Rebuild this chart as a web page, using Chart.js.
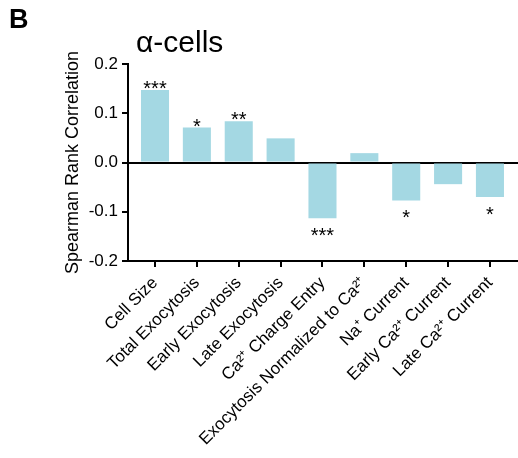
<!DOCTYPE html>
<html lang="en">
<head>
  <meta charset="UTF-8">
  <title>α-cells</title>
  <script src="https://cdn.jsdelivr.net/npm/chart.js"></script>
  <style>
    body {
      margin: 0;
      padding: 0;
      background: #fff;
      font-family: 'Liberation Sans', Arial, sans-serif;
    }
    .lienzo {
      position: relative;
      width: 518px;
      height: 458px;
    }
    .panel {
      position: absolute;
      left: 9px;
      top: 4px;
      font-size: 27px;
      font-weight: bold;
      color: #000;
    }
    .titulo {
      position: absolute;
      left: 136px;
      top: 25px;
      font-size: 30px;
      color: #000;
    }
  </style>
</head>
<body>
  <div class="lienzo">
    <div class="panel">B</div>
    <div class="titulo">α-cells</div>
    <canvas id="grafico"></canvas>
  </div>

  <script>
    // datos
    const categorias = [
      'Cell Size',
      'Total Exocytosis',
      'Early Exocytosis',
      'Late Exocytosis',
      'Ca²⁺ Charge Entry',
      'Exocytosis Normalized to Ca²⁺',
      'Na⁺ Current',
      'Early Ca²⁺ Current',
      'Late Ca²⁺ Current'
    ];
    const correlacion = [0.147, 0.071, 0.084, 0.049, -0.113, 0.019, -0.077, -0.044, -0.070];
    const significancia = ['***', '*', '**', '', '***', '', '*', '', '*'];
    const ticksY = [-0.2, -0.1, 0.0, 0.1, 0.2];

    const negro = '#000';
    const celeste = '#a4d8e3';
    const fuente = '"Liberation Sans", Arial, sans-serif';

    // asteriscos sobre / bajo cada barra
    const asteriscos = {
      id: 'asteriscos',
      afterDatasetsDraw(chart) {
        const ctx = chart.ctx;
        const x = chart.scales.x;
        const y = chart.scales.y;
        ctx.save();
        ctx.font = '20px ' + fuente;
        ctx.fillStyle = negro;
        ctx.textAlign = 'center';
        ctx.textBaseline = 'alphabetic';
        significancia.forEach((s, i) => {
          if (!s) return;
          const v = correlacion[i];
          const px = x.getPixelForValue(i);
          const py = y.getPixelForValue(v);
          ctx.fillText(s, px, v >= 0 ? py + 5 : py + 24);
        });
        ctx.restore();
      }
    };

    new Chart(document.getElementById('grafico').getContext('2d'), {
      type: 'bar',
      data: {
        datasets: [{
          data: correlacion.map((v, i) => ({ x: i, y: v })),
          backgroundColor: celeste,
          borderWidth: 0,
          categoryPercentage: 1,
          barPercentage: 0.67
        }]
      },
      options: {
        responsive: true,
        maintainAspectRatio: false,
        animation: false,
        layout: { padding: { left: 62, top: 64, right: 0, bottom: 0 } },
        plugins: {
          legend: { display: false },
          tooltip: { enabled: false }
        },
        scales: {
          x: {
            type: 'linear',
            offset: false,
            min: -0.645,
            max: 8.67,
            afterBuildTicks: scale => {
              scale.ticks = categorias.map((_, i) => ({ value: i }));
            },
            afterFit: scale => { scale.height = 197; },
            border: { display: true, color: negro, width: 2 },
            grid: {
              offset: false,
              drawOnChartArea: false,
              drawTicks: true,
              tickLength: 6,
              tickColor: negro,
              lineWidth: 2
            },
            ticks: {
              autoSkip: false,
              minRotation: 45,
              maxRotation: 45,
              padding: 6,
              color: negro,
              font: { family: fuente, size: 17 },
              callback: v => categorias[v]
            }
          },
          y: {
            min: -0.2,
            max: 0.2,
            afterBuildTicks: scale => {
              scale.ticks = ticksY.map(v => ({ value: v }));
            },
            afterFit: scale => { scale.width = 66; },
            border: { display: true, color: negro, width: 2 },
            grid: {
              drawOnChartArea: true,
              color: c => (c.tick && c.tick.value === 0) ? negro : 'rgba(0,0,0,0)',
              tickColor: negro,
              tickLength: 6,
              lineWidth: 2
            },
            ticks: {
              padding: 4,
              color: negro,
              font: { family: fuente, size: 17 },
              callback: v => v.toFixed(1)
            },
            title: {
              display: true,
              text: 'Spearman Rank Correlation',
              color: negro,
              padding: { top: 0, bottom: 0 },
              font: { family: fuente, size: 18 }
            }
          }
        }
      },
      plugins: [asteriscos]
    });
  </script>
</body>
</html>
